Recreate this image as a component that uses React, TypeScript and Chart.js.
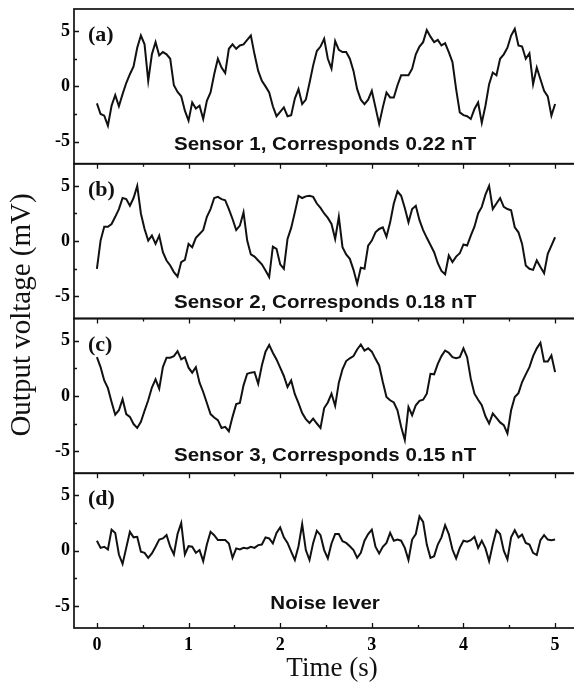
import { useEffect, useRef } from "react";
import { Chart, registerables } from "chart.js";

Chart.register(...registerables);

// sampling interval of the traces (s)
const SAMPLE_STEP_S = 0.04;

// (a) Sensor 1 output (mV)
const sensor1 = [
  -1.54, -2.5, -2.65, -3.55, -1.75, -0.8, -1.8, -0.7, 0.3, 1.1,
  1.8, 3.5, 4.6, 3.8, 0.5, 2.9, 4.0, 2.8, 3.1, 2.9,
  2.5, 0.1, -0.5, -0.9, -2.2, -3.1, -1.45, -2.0, -1.75, -2.95,
  -1.3, -0.55, 1.1, 2.5, 1.7, 1.2, 3.4, 3.8, 3.4, 3.7,
  3.8, 4.2, 4.6, 2.9, 1.4, 0.5, 0.0, -0.55, -1.8, -2.7,
  -2.3, -1.9, -2.7, -2.6, -1.1, -0.25, -1.6, -1.2, 0.3, 1.9,
  3.2, 3.6, 4.3, 2.5, 1.6, 4.1, 3.3, 3.1, 3.1, 2.5,
  1.4, -0.25, -1.2, -1.6, -1.2, -0.4, -1.9, -3.4, -1.9, -0.55,
  -1.0, -1.0, 0.1, 1.0, 1.0, 1.0, 1.6, 2.9, 3.6, 4.0,
  5.1, 4.5, 4.0, 4.2, 3.7, 3.9, 3.1, 2.2, -0.25, -2.35,
  -2.6, -2.7, -2.95, -2.05, -1.45, -3.3, -1.75, 0.2, 1.25, 1.0,
  2.5, 2.9, 3.5, 4.6, 5.2, 3.7, 3.6, 2.5, 3.0, 0.2,
  1.7, 0.65, -0.4, -0.9, -2.65, -1.6,
];

// (b) Sensor 2 output (mV)
const sensor2 = [
  -2.5, 0.05, 1.3, 1.3, 1.55, 2.2, 2.9, 3.9, 3.8, 3.2,
  3.9, 5.0, 2.5, 1.1, 0.05, 0.5, -0.25, 0.5, -1.0, -1.75,
  -2.2, -2.8, -3.2, -1.9, -1.7, -0.25, -0.55, 0.3, 0.65, 1.0,
  2.2, 2.9, 3.9, 4.0, 3.8, 3.7, 2.9, 2.0, 1.0, 1.4,
  2.6, 0.05, -1.2, -1.4, -1.75, -2.1, -2.65, -3.25, -0.5, -0.7,
  -2.1, -2.5, 0.2, 1.2, 2.6, 4.1, 3.9, 4.05, 4.1, 4.0,
  3.4, 3.0, 2.5, 2.1, 1.55, 0.2, 2.2, -0.55, -1.2, -1.6,
  -2.6, -3.85, -2.4, -2.5, -0.4, 0.05, 0.8, 1.1, 1.25, 0.4,
  1.7, 3.4, 4.5, 4.1, 3.0, 1.7, 2.9, 3.2, 1.9, 1.0,
  0.3, -0.35, -1.0, -2.0, -2.7, -3.0, -1.3, -1.9, -1.4, -1.1,
  -0.3, -0.4, 0.5, 1.3, 2.5, 3.1, 4.2, 5.0, 2.9, 3.4,
  3.9, 3.1, 2.9, 2.8, 1.25, 0.8, -0.25, -2.2, -2.5, -2.6,
  -1.75, -2.35, -2.9, -1.15, -0.4, 0.35,
];

// (c) Sensor 3 output (mV)
const sensor3 = [
  3.5, 2.6, 1.4, 0.7, -0.55, -1.7, -1.3, -0.3, -1.65, -1.9,
  -2.55, -2.9, -2.35, -1.35, -0.4, 0.75, 1.5, 0.65, 2.6, 3.45,
  3.45, 3.6, 4.05, 3.3, 3.5, 2.55, 2.1, 2.6, 1.2, 0.35,
  -0.65, -1.65, -1.95, -2.2, -2.9, -2.8, -3.2, -1.9, -0.75, -0.65,
  0.95, 2.0, 2.1, 2.15, 1.1, 2.75, 4.0, 4.6, 3.9, 3.3,
  2.55, 1.8, 0.8, 1.4, 0.15, -0.65, -1.55, -2.1, -2.45, -2.05,
  -2.5, -2.9, -1.1, -0.6, 0.2, -0.9, 1.2, 2.4, 3.15, 3.4,
  3.6, 4.2, 4.65, 4.1, 4.3, 4.0, 3.35, 2.75, 1.25, -0.1,
  -0.4, -0.6, -1.3, -2.8, -4.0, -1.0, -1.75, -0.85, -0.45, -0.35,
  0.2, 2.0, 1.95, 2.9, 3.6, 4.1, 3.9, 3.5, 3.4, 3.5,
  4.3, 3.5, 1.55, 0.2, -0.35, -0.85, -1.85, -2.5, -1.6, -2.0,
  -2.4, -2.65, -3.4, -1.3, -0.1, 0.25, 1.25, 1.95, 2.6, 3.6,
  4.3, 4.8, 3.1, 3.1, 3.65, 2.15,
];

// (d) Noise level (mV)
const noise = [
  0.9, 0.25, 0.35, 0.1, 1.9, 1.6, -0.35, -1.2, 0.25, 1.7,
  1.2, 1.25, -0.1, -0.2, -0.65, -0.25, 0.35, 1.0, 1.1, 1.4,
  0.35, -0.35, 1.5, 2.5, -0.35, 0.4, 0.35, -0.2, 0.05, -0.95,
  0.55, 1.7, 1.4, 0.95, 0.95, 0.95, 0.65, -0.65, 0.2, 0.1,
  0.25, 0.2, 0.35, 0.25, 0.5, 0.55, 1.2, 1.1, 0.65, 1.6,
  2.1, 1.2, 0.7, -0.1, -0.85, 0.4, 2.4, 0.05, -0.85, 0.7,
  1.8, 1.4, 0.05, -0.7, 0.65, 1.5, 1.5, 0.85, 0.7, 0.4,
  0.05, -0.65, -0.2, 0.9, 1.5, 1.9, 0.35, -0.25, 0.35, 0.7,
  1.6, 0.9, 1.0, 0.9, 0.25, -0.85, 1.0, 1.5, 3.1, 2.6,
  0.55, -0.65, -0.5, 0.55, 1.2, 2.3, 1.5, 0.1, -0.7, 0.25,
  0.9, 0.8, 0.95, 1.25, 0.25, 0.9, 0.2, -0.95, 0.55, 1.85,
  1.5, 0.0, -0.8, 1.2, 1.85, 1.2, 1.45, 0.7, 0.55, -0.2,
  -0.4, 0.95, 1.4, 1.0, 0.95, 1.0,
];

const time = sensor1.map((_, i) => +(i * SAMPLE_STEP_S).toFixed(2));

const xTicks = [0, 1, 2, 3, 4, 5];
const xMinorTicks = [0.5, 1.5, 2.5, 3.5, 4.5];
const yTicks = [-5, 0, 5];
const yMinorTicks = [-2.5, 2.5];

// panels from top to bottom
const panelSeries = [sensor1, sensor2, sensor3, noise];
const panelIds = ["ya", "yb", "yc", "yd"];
const panelLetters = ["(a)", "(b)", "(c)", "(d)"];
const panelCaptions = [
  "Sensor 1, Corresponds 0.22 nT",
  "Sensor 2, Corresponds 0.18 nT",
  "Sensor 3, Corresponds 0.15 nT",
  "Noise lever",
];
const captionLevels = [-5.3, -5.55, -5.4, -4.8];
const captionTime = 2.49;
const letterLevel = 4.6;

const SERIF = '"Liberation Serif", "Times New Roman", serif';
const SANS = '"Liberation Sans", Arial, sans-serif';
const INK = "#111";

const decorPlugin = {
  id: "decor",
  afterDatasetsDraw(chart: any) {
    const ctx = chart.ctx as CanvasRenderingContext2D;
    const xs = chart.scales.x;
    const { left, right } = chart.chartArea;
    ctx.save();
    ctx.strokeStyle = INK;
    ctx.fillStyle = INK;
    panelIds.forEach((id, i) => {
      const ys = chart.scales[id];
      const top = ys.top;
      const bottom = ys.bottom;
      ctx.lineWidth = 1.7;
      ctx.strokeRect(left, top, right - left, bottom - top);
      ctx.lineWidth = 1.3;
      ctx.beginPath();
      yTicks.forEach((v) => {
        const py = Math.round(ys.getPixelForValue(v)) + 0.5;
        ctx.moveTo(left, py);
        ctx.lineTo(left + 5, py);
      });
      yMinorTicks.forEach((v) => {
        const py = Math.round(ys.getPixelForValue(v)) + 0.5;
        ctx.moveTo(left, py);
        ctx.lineTo(left + 3, py);
      });
      const dir = i === panelIds.length - 1 ? -1 : 1;
      xTicks.forEach((v) => {
        const px = Math.round(xs.getPixelForValue(v)) + 0.5;
        ctx.moveTo(px, bottom);
        ctx.lineTo(px, bottom + dir * 5);
      });
      xMinorTicks.forEach((v) => {
        const px = Math.round(xs.getPixelForValue(v)) + 0.5;
        ctx.moveTo(px, bottom);
        ctx.lineTo(px, bottom + dir * 3);
      });
      ctx.stroke();

      // panel letter
      ctx.font = `bold 22px ${SERIF}`;
      ctx.textAlign = "left";
      ctx.textBaseline = "middle";
      ctx.fillText(panelLetters[i], left + 14, ys.getPixelForValue(letterLevel));

      // caption (slightly wide bold sans)
      ctx.save();
      ctx.font = `bold 19px ${SANS}`;
      ctx.textAlign = "center";
      ctx.translate(xs.getPixelForValue(captionTime), ys.getPixelForValue(captionLevels[i]));
      ctx.scale(1.08, 1);
      ctx.fillText(panelCaptions[i], 0, 0);
      ctx.restore();
    });

    // axis titles
    ctx.textAlign = "center";
    ctx.textBaseline = "middle";
    ctx.save();
    ctx.font = `29px ${SERIF}`;
    ctx.translate(22, 315);
    ctx.rotate(-Math.PI / 2);
    ctx.fillText("Output voltage (mV)", 0, 0);
    ctx.restore();
    ctx.font = `27px ${SERIF}`;
    ctx.fillText("Time (s)", xs.getPixelForValue(2.5) + 6, 669);
    ctx.restore();
  },
};

export default function App() {
  const canvasRef = useRef<HTMLCanvasElement | null>(null);

  useEffect(() => {
    if (!canvasRef.current) return;
    const yScales: any = {};
    // stacked axes are laid out bottom-up in definition order
    [...panelIds].reverse().forEach((id) => {
      yScales[id] = {
        type: "linear",
        position: "left",
        stack: "panels",
        stackWeight: 1,
        min: -7,
        max: 7,
        grid: { display: false, drawTicks: false },
        border: { display: false },
        afterBuildTicks: (axis: any) => {
          axis.ticks = yTicks.map((v) => ({ value: v }));
        },
        afterFit: (axis: any) => {
          axis.width = 74;
          axis.paddingTop = 0;
          axis.paddingBottom = 0;
        },
        ticks: {
          color: "#000",
          padding: 4,
          font: { family: SERIF, size: 18, weight: "bold" },
        },
      };
    });

    const chart = new Chart(canvasRef.current, {
      type: "line",
      data: {
        datasets: panelSeries.map((series, i) => ({
          label: panelCaptions[i],
          data: series.map((v, k) => ({ x: time[k], y: v })),
          yAxisID: panelIds[i],
          xAxisID: "x",
          borderColor: INK,
          borderWidth: 2,
          pointRadius: 0,
          tension: 0,
          fill: false,
        })),
      },
      options: {
        responsive: false,
        animation: false,
        devicePixelRatio: 1,
        layout: { padding: { top: 9, left: 0, right: 2, bottom: 0 } },
        plugins: {
          legend: { display: false },
          tooltip: { enabled: false },
        },
        events: [],
        scales: {
          x: {
            type: "linear",
            position: "bottom",
            min: -0.25,
            max: 5.25,
            grid: { display: false, drawTicks: false },
            border: { display: false },
            afterBuildTicks: (axis: any) => {
              axis.ticks = xTicks.map((v) => ({ value: v }));
            },
            afterFit: (axis: any) => {
              axis.height = 61;
              axis.paddingLeft = 0;
              axis.paddingRight = 0;
            },
            ticks: {
              color: "#000",
              padding: 7,
              maxRotation: 0,
              font: { family: SERIF, size: 18, weight: "bold" },
            },
          },
          ...yScales,
        },
      } as any,
      plugins: [decorPlugin],
    });
    return () => chart.destroy();
  }, []);

  return (
    <div
      style={{
        position: "absolute",
        left: 0,
        top: 0,
        width: 574,
        height: 689,
        overflow: "hidden",
        background: "#fff",
      }}
    >
      <canvas ref={canvasRef} width={580} height={689} style={{ display: "block" }} />
    </div>
  );
}
